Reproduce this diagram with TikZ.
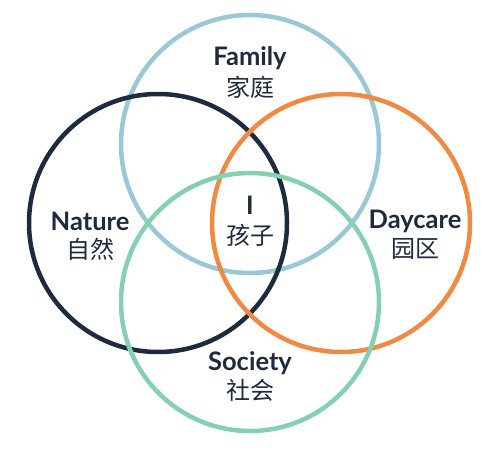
\documentclass[tikz,border=0pt]{standalone}
\usepackage{fontspec}
\setmainfont{Lato}
\newfontfamily\cjk{Noto Sans CJK SC}
\usetikzlibrary{positioning}

\definecolor{famblue}{HTML}{9AC8D4}
\definecolor{natnavy}{HTML}{1E2A3E}
\definecolor{dayorange}{HTML}{F08A43}
\definecolor{socgreen}{HTML}{84D0B0}
\definecolor{inktext}{HTML}{1F2A3C}

\begin{document}
\begin{tikzpicture}[x=1pt, y=-1pt,
    ring/.style={draw, circle, line width=4.5pt, minimum size=258pt, inner sep=0pt},
    enlabel/.style={font=\fontsize{25.5}{28}\selectfont\bfseries, text=inktext, inner sep=0pt},
    cnlabel/.style={font=\fontsize{24}{27}\selectfont\cjk, text=inktext, inner sep=0pt}
]
\useasboundingbox[fill=white] (0,0) rectangle (500,462);

% circles
\node[ring, draw=famblue] (family) at (250,144) {};
\node[ring, draw=natnavy] (nature) at (158,223) {};
\node[ring, draw=dayorange] (daycare) at (341,223) {};
\node[ring, draw=socgreen] (society) at (250,302) {};

% Family
\node[enlabel] (familyen) at (250,58) {Family};
\node[cnlabel] (familycn) at (250,87) {家庭};

% Nature
\node[enlabel] (natureen) at (90,221) {Nature};
\node[cnlabel] (naturecn) at (90,249) {自然};

% Daycare
\node[enlabel] (daycareen) at (415,221) {Daycare};
\node[cnlabel] (daycarecn) at (415,249) {园区};

% child in the middle
\node[enlabel] (childen) at (250,205) {I};
\node[cnlabel] (childcn) at (250,235) {孩子};

% Society
\node[enlabel] (societyen) at (250,363) {Society};
\node[cnlabel] (societycn) at (250,390) {社会};

\end{tikzpicture}
\end{document}
